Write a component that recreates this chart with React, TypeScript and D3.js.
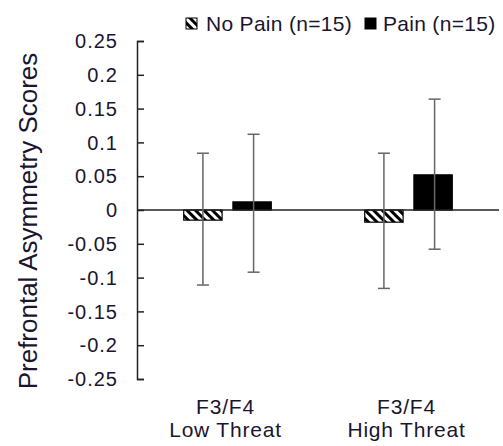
import { useEffect, useRef } from 'react'
import * as d3 from 'd3'

const categories = [['F3/F4', 'Low Threat'], ['F3/F4', 'High Threat']]
const groups = ['No Pain (n=15)', 'Pain (n=15)']
const means = [
  [-0.015, 0.012],
  [-0.018, 0.052],
]
const errHigh = [
  [0.084, 0.112],
  [0.084, 0.164],
]
const errLow = [
  [-0.111, -0.092],
  [-0.116, -0.058],
]
const yTicks = [0.25, 0.2, 0.15, 0.1, 0.05, 0, -0.05, -0.1, -0.15, -0.2, -0.25]

const W = 503
const H = 446

export default function App() {
  const svgRef = useRef<SVGSVGElement>(null)

  useEffect(() => {
    const el = svgRef.current
    if (!el) return
    const svg = d3.select(el)
    svg.selectAll('*').remove()

    const margin = { top: 41, right: 4, bottom: 66, left: 137 }
    const x0 = d3.scaleBand<number>()
      .domain(d3.range(categories.length))
      .range([margin.left, W - margin.right])
    const x1 = d3.scaleBand<number>()
      .domain(d3.range(groups.length))
      .range([0, x0.bandwidth()])
      .paddingInner(0.22)
      .paddingOuter(0.95)
    const y = d3.scaleLinear().domain([-0.25, 0.25]).range([H - margin.bottom - 1, margin.top])

    const font = 'Arial, "Liberation Sans", sans-serif'
    const ink = '#1a1530'

    const defs = svg.append('defs')
    const pat = defs.append('pattern')
      .attr('id', 'hatch')
      .attr('patternUnits', 'userSpaceOnUse')
      .attr('width', 6).attr('height', 6)
      .attr('patternTransform', 'rotate(-45)')
    pat.append('rect').attr('width', 6).attr('height', 6).attr('fill', '#fff')
    pat.append('rect').attr('width', 3).attr('height', 6).attr('fill', '#000')

    // bars
    categories.forEach((_, ci) => {
      groups.forEach((_, gi) => {
        const v = means[ci][gi]
        const bx = x0(ci)! + x1(gi)!
        svg.append('rect')
          .attr('x', bx)
          .attr('y', y(Math.max(0, v)))
          .attr('width', x1.bandwidth())
          .attr('height', Math.abs(y(v) - y(0)))
          .attr('fill', gi === 0 ? 'url(#hatch)' : '#000')
          .attr('stroke', '#000')
          .attr('stroke-width', 1.2)
      })
    })

    // zero line
    svg.append('line')
      .attr('x1', margin.left).attr('x2', W - margin.right)
      .attr('y1', y(0)).attr('y2', y(0))
      .attr('stroke', '#222').attr('stroke-width', 1.5)

    // error bars
    categories.forEach((_, ci) => {
      groups.forEach((_, gi) => {
        const cx = x0(ci)! + x1(gi)! + x1.bandwidth() / 2 + (gi === 1 ? 1.5 : 0)
        const g = svg.append('g').attr('stroke', '#666').attr('stroke-width', 1.5)
        g.append('line').attr('x1', cx).attr('x2', cx)
          .attr('y1', y(errHigh[ci][gi])).attr('y2', y(errLow[ci][gi]))
        ;[errHigh[ci][gi], errLow[ci][gi]].forEach(v => {
          g.append('line').attr('x1', cx - 6).attr('x2', cx + 6)
            .attr('y1', y(v)).attr('y2', y(v))
        })
      })
    })

    // y axis
    svg.append('g')
      .attr('transform', `translate(${margin.left},0)`)
      .call(d3.axisRight(y).tickValues(yTicks).tickSize(7).tickSizeOuter(7).tickFormat(() => ''))
      .call(ax => ax.select('.domain').attr('stroke', '#222').attr('stroke-width', 1.5))
      .call(ax => ax.selectAll('.tick line').attr('stroke', '#222').attr('stroke-width', 1.5))

    svg.append('g')
      .selectAll('text')
      .data(yTicks)
      .join('text')
      .attr('x', 118)
      .attr('y', d => y(d))
      .attr('dy', '0.36em')
      .attr('text-anchor', 'end')
      .attr('font-family', font)
      .attr('font-size', 20)
      .attr('letter-spacing', 1)
      .attr('fill', ink)
      .text(d => String(d))

    // y title
    svg.append('text')
      .attr('transform', `translate(37,221) rotate(-90)`)
      .attr('text-anchor', 'middle')
      .attr('font-family', font)
      .attr('font-size', 26)
      .attr('fill', ink)
      .text('Prefrontal Asymmetry Scores')

    // x labels
    categories.forEach((lines, ci) => {
      const cx = x0(ci)! + x0.bandwidth() / 2 - 2
      lines.forEach((t, li) => {
        svg.append('text')
          .attr('x', cx)
          .attr('y', 414 + li * 23)
          .attr('text-anchor', 'middle')
          .attr('font-family', font)
          .attr('font-size', 21)
          .attr('letter-spacing', 0.8)
          .attr('fill', ink)
          .text(t)
      })
    })

    // legend
    const legendX = [186, 365]
    const legendTextX = [206, 383]
    groups.forEach((name, gi) => {
      svg.append('rect')
        .attr('x', legendX[gi]).attr('y', 18)
        .attr('width', 11).attr('height', 11)
        .attr('fill', gi === 0 ? 'url(#hatch)' : '#000')
        .attr('stroke', '#000').attr('stroke-width', 1)
      svg.append('text')
        .attr('x', legendTextX[gi]).attr('y', 31)
        .attr('font-family', font)
        .attr('font-size', 21)
        .attr('letter-spacing', 0.3)
        .attr('fill', ink)
        .text(name)
    })
  }, [])

  return (
    <svg
      ref={svgRef}
      width={W}
      height={H}
      style={{ display: 'block', position: 'absolute', left: 0, top: 0, background: '#fff' }}
    />
  )
}
